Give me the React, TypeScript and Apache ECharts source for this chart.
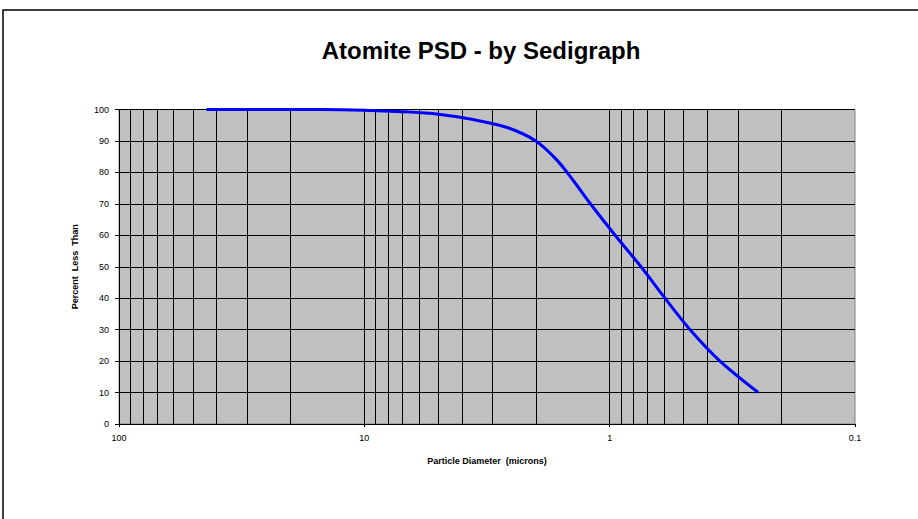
import React, { useEffect, useRef } from "react";
import * as echarts from "echarts";

const diameters = [44, 30, 20, 15, 10, 7, 5, 3.6, 2.6, 2.0, 1.64, 1.41, 1.2, 0.95, 0.745, 0.595, 0.47, 0.355, 0.248];
const percentLess = [100, 100, 100, 100, 99.8, 99.3, 98.5, 96.8, 94.2, 90.0, 83.9, 77.5, 70.1, 60.0, 50.0, 40.0, 30.0, 20.0, 10.0];
const gridMantissas = [1, 2, 3, 4, 5, 6, 7, 8, 9];
const gridDecades = [0.1, 1, 10];
const xTickLabels = ["100", "10", "1", "0.1"];

const FONT = "'Liberation Sans', Arial, sans-serif";

export default function App() {
  const ref = useRef<HTMLDivElement>(null);
  useEffect(() => {
    if (!ref.current) return;
    const chart = echarts.init(ref.current, undefined, { renderer: "svg" });
    const gridVals: number[] = [];
    gridDecades.forEach((d) =>
      gridMantissas.forEach((m) => {
        const v = +(m * d).toPrecision(3);
        if (v > 0.1 && v < 100) gridVals.push(v);
      })
    );
    const fmt = (v: number) => {
      const s = String(+v.toPrecision(3));
      return xTickLabels.includes(s) ? s : "";
    };
    chart.setOption({
      animation: false,
      backgroundColor: "#ffffff",
      title: {
        text: "Atomite PSD - by Sedigraph",
        left: 476,
        top: 33,
        textAlign: "center",
        textStyle: { fontFamily: FONT, fontSize: 24, fontWeight: "bold", color: "#000" },
      },
      graphic: [
        {
          type: "rect",
          shape: { x: 3, y: 10, width: 940, height: 540 },
          style: { fill: "none", stroke: "#000", lineWidth: 1.5 },
          silent: true,
        },
      ],
      grid: {
        left: 119,
        right: 63,
        top: 109.5,
        bottom: 95,
        show: true,
        backgroundColor: "#c0c0c0",
        borderColor: "#808080",
        borderWidth: 1,
      },
      xAxis: {
        type: "log",
        logBase: 10,
        min: 0.1,
        max: 100,
        inverse: true,
        name: "Particle Diameter  (microns)",
        nameLocation: "middle",
        nameGap: 32,
        nameTextStyle: { fontFamily: FONT, fontSize: 9, fontWeight: "bold", color: "#000" },
        axisLine: { show: true, lineStyle: { color: "#000", width: 1 } },
        axisTick: { show: true, length: 3, lineStyle: { color: "#000" } },
        axisLabel: { formatter: fmt, fontFamily: FONT, fontSize: 9, color: "#000", margin: 9 },
        splitLine: { show: false },
        minorTick: { show: false },
        minorSplitLine: { show: false },
      },
      yAxis: {
        type: "value",
        min: 0,
        max: 100,
        interval: 10,
        name: "Percent  Less  Than",
        nameLocation: "middle",
        nameGap: 40,
        nameTextStyle: { fontFamily: FONT, fontSize: 9, fontWeight: "bold", color: "#000" },
        axisLine: { show: true, lineStyle: { color: "#000", width: 1 } },
        axisTick: { show: true, length: 4, lineStyle: { color: "#000" } },
        axisLabel: { fontFamily: FONT, fontSize: 9, color: "#000", margin: 10 },
        splitLine: { show: true, lineStyle: { color: "#000", width: 1 } },
      },
      series: [
        {
          type: "line",
          data: [],
          silent: true,
          z: 1,
          markLine: {
            silent: true,
            symbol: "none",
            label: { show: false },
            lineStyle: { color: "#000", width: 1, type: "solid" },
            emphasis: { disabled: true },
            data: gridVals.map((v) => ({ xAxis: v })),
          },
        },
        {
          type: "line",
          z: 5,
          data: diameters.map((d, i) => [d, percentLess[i]]),
          smooth: 0.3,
          showSymbol: false,
          lineStyle: { color: "#0000ff", width: 3 },
        },
      ],
    });
    return () => chart.dispose();
  }, []);
  return <div ref={ref} style={{ position: "fixed", left: 0, top: 0, width: 918, height: 519 }} />;
}
